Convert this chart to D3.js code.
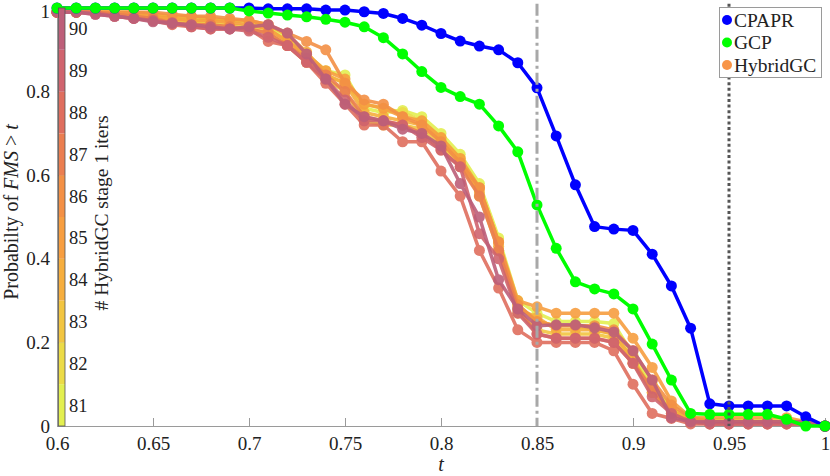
<!DOCTYPE html>
<html>
<head>
<meta charset="utf-8">
<script src="https://cdn.jsdelivr.net/npm/d3@7"></script>
<style>
    body { margin: 0; background: #fff; }
    text { font-family: "Liberation Serif", "Times New Roman", serif; fill: #222; }
</style>
</head>
<body>
<div id="chart"></div>
<script>
/* * * * * * * * * * * * * *
 *        FMS chart        *
 * * * * * * * * * * * * * */

// thresholds t
const tVals = [0.60, 0.61, 0.62, 0.63, 0.64, 0.65, 0.66, 0.67, 0.68, 0.69,
               0.70, 0.71, 0.72, 0.73, 0.74, 0.75, 0.76, 0.77, 0.78, 0.79,
               0.80, 0.81, 0.82, 0.83, 0.84, 0.85, 0.86, 0.87, 0.88, 0.89,
               0.90, 0.91, 0.92, 0.93, 0.94, 0.95, 0.96, 0.97, 0.98, 0.99, 1.00];

const cpapr = [1, 1, 1, 1, 1, 1, 1, 1, 1, 1,
               1, 0.998, 0.998, 0.998, 0.995, 0.995, 0.991, 0.987, 0.975, 0.959,
               0.939, 0.921, 0.909, 0.90, 0.869, 0.809, 0.694, 0.577, 0.477, 0.471,
               0.468, 0.411, 0.335, 0.234, 0.053, 0.048, 0.048, 0.048, 0.048, 0.022, 0];

const gcp = [1, 1, 1, 1, 1, 1, 1, 1, 1, 1,
             0.993, 0.988, 0.983, 0.979, 0.973, 0.966, 0.955, 0.929, 0.89, 0.848,
             0.81, 0.788, 0.77, 0.718, 0.656, 0.529, 0.425, 0.345, 0.328, 0.316,
             0.28, 0.196, 0.11, 0.03, 0.028, 0.028, 0.028, 0.028, 0.016, 0, 0];

// HybridGC, one run per number of stage 1 iterations
const iters = [81, 82, 83, 84, 85, 86, 87, 88, 89, 90];

const h81 = [0.99, 0.99, 0.99, 0.99, 0.99, 0.985, 0.98, 0.975, 0.97, 0.97,
             0.965, 0.955, 0.93, 0.89, 0.85, 0.84, 0.76, 0.75, 0.755, 0.74,
             0.70, 0.65, 0.58, 0.45, 0.30, 0.27, 0.25, 0.25, 0.25, 0.245,
             0.17, 0.10, 0.04, 0.02, 0.015, 0.015, 0.015, 0.015, 0.015, 0.01, 0];
const h82 = [0.99, 0.99, 0.99, 0.99, 0.985, 0.98, 0.975, 0.97, 0.965, 0.96,
             0.955, 0.95, 0.92, 0.88, 0.84, 0.82, 0.77, 0.76, 0.75, 0.73,
             0.69, 0.64, 0.57, 0.44, 0.29, 0.25, 0.24, 0.24, 0.23, 0.22,
             0.16, 0.09, 0.04, 0.02, 0.015, 0.015, 0.01, 0.01, 0.01, 0.01, 0];
const h83 = [0.99, 0.99, 0.99, 0.985, 0.98, 0.975, 0.97, 0.965, 0.96, 0.955,
             0.95, 0.94, 0.91, 0.87, 0.83, 0.80, 0.73, 0.72, 0.72, 0.71,
             0.67, 0.63, 0.55, 0.42, 0.27, 0.23, 0.22, 0.22, 0.22, 0.21,
             0.15, 0.08, 0.03, 0.015, 0.01, 0.01, 0.01, 0.01, 0.01, 0.005, 0];
const h84 = [0.99, 0.99, 0.99, 0.99, 0.99, 0.985, 0.98, 0.98, 0.975, 0.97,
             0.97, 0.96, 0.935, 0.895, 0.84, 0.82, 0.75, 0.74, 0.73, 0.72,
             0.68, 0.63, 0.56, 0.43, 0.28, 0.26, 0.23, 0.23, 0.23, 0.22,
             0.16, 0.08, 0.035, 0.02, 0.01, 0.01, 0.01, 0.01, 0.01, 0.01, 0];
const h85 = [0.99, 0.99, 0.99, 0.99, 0.985, 0.98, 0.975, 0.97, 0.97, 0.965,
             0.96, 0.95, 0.92, 0.89, 0.85, 0.83, 0.77, 0.76, 0.74, 0.73,
             0.69, 0.64, 0.57, 0.44, 0.30, 0.285, 0.27, 0.27, 0.27, 0.27,
             0.21, 0.14, 0.06, 0.02, 0.02, 0.02, 0.02, 0.02, 0.02, 0.01, 0];
const h86 = [0.99, 0.99, 0.99, 0.99, 0.99, 0.99, 0.985, 0.98, 0.98, 0.975,
             0.97, 0.96, 0.94, 0.92, 0.90, 0.82, 0.78, 0.77, 0.74, 0.72,
             0.68, 0.63, 0.57, 0.44, 0.29, 0.25, 0.24, 0.24, 0.24, 0.23,
             0.18, 0.11, 0.05, 0.02, 0.01, 0.01, 0.01, 0.01, 0.01, 0.01, 0];
const h87 = [0.99, 0.99, 0.99, 0.985, 0.98, 0.975, 0.965, 0.96, 0.96, 0.955,
             0.95, 0.94, 0.91, 0.88, 0.84, 0.80, 0.74, 0.73, 0.72, 0.70,
             0.66, 0.62, 0.55, 0.42, 0.28, 0.22, 0.21, 0.21, 0.21, 0.20,
             0.15, 0.09, 0.03, 0.01, 0.005, 0.005, 0.005, 0.005, 0.005, 0.005, 0];
const h88 = [0.99, 0.99, 0.99, 0.98, 0.975, 0.97, 0.96, 0.955, 0.95, 0.95,
             0.95, 0.92, 0.91, 0.87, 0.82, 0.77, 0.72, 0.72, 0.68, 0.68,
             0.61, 0.55, 0.42, 0.33, 0.23, 0.20, 0.20, 0.20, 0.20, 0.18,
             0.10, 0.03, 0.018, 0.005, 0.005, 0.005, 0.005, 0.005, 0.005, 0.005, 0];
const h89 = [0.99, 0.99, 0.985, 0.98, 0.975, 0.97, 0.965, 0.955, 0.95, 0.95,
             0.945, 0.93, 0.91, 0.87, 0.83, 0.78, 0.73, 0.73, 0.72, 0.69,
             0.66, 0.62, 0.46, 0.40, 0.27, 0.22, 0.21, 0.21, 0.21, 0.20,
             0.15, 0.07, 0.03, 0.01, 0.005, 0.005, 0.005, 0.005, 0.005, 0.005, 0];
const h90 = [0.99, 0.99, 0.985, 0.98, 0.975, 0.967, 0.963, 0.96, 0.955, 0.95,
             0.955, 0.96, 0.94, 0.89, 0.83, 0.77, 0.74, 0.73, 0.71, 0.70,
             0.67, 0.58, 0.50, 0.35, 0.28, 0.24, 0.242, 0.242, 0.235, 0.225,
             0.18, 0.11, 0.02, 0.01, 0.01, 0.01, 0.01, 0.01, 0.01, 0.01, 0];

const hybridRuns = [h81, h82, h83, h84, h85, h86, h87, h88, h89, h90];
const iterColors = ['#e3ef50', '#ecdb47', '#f2c541', '#f6ae3e', '#f79e40',
                    '#f39045', '#eb7e50', '#df6e5e', '#d0646e', '#bd5f79'];

const xTicks = [0.6, 0.65, 0.7, 0.75, 0.8, 0.85, 0.9, 0.95, 1];
const yTicks = [0, 0.2, 0.4, 0.6, 0.8, 1];
const markLines = [0.85, 0.95];


class FmsVis {
    constructor(parentElement) {
        this.parentElement = parentElement;
        this.initVis();
    }

    initVis() {
        let vis = this;

        vis.width = 830;
        vis.height = 476;

        vis.svg = d3.select('#' + vis.parentElement)
            .append('svg')
            .attr('width', vis.width)
            .attr('height', vis.height);

        // scales
        vis.x = d3.scaleLinear().domain([0.6, 1]).range([57, 825]);
        vis.y = d3.scaleLinear().domain([0, 1]).range([426, 8]);
        vis.cb = d3.scaleLinear().domain([80.5, 90.5]).range([426, 8]);
        vis.color = d3.scaleOrdinal(iters, iterColors);

        vis.line = d3.line()
            .x((d, i) => vis.x(tVals[i]))
            .y(d => vis.y(d));

        // axes
        vis.svg.append('g')
            .attr('class', 'x-axis')
            .attr('transform', `translate(0, ${vis.y(0)})`)
            .call(d3.axisBottom(vis.x).tickValues(xTicks).tickSize(-8).tickSizeOuter(0)
                .tickPadding(11).tickFormat(d3.format('~g')));

        vis.svg.append('g')
            .attr('class', 'y-axis')
            .attr('transform', `translate(${vis.x(0.6)}, 0)`)
            .call(d3.axisLeft(vis.y).tickValues(yTicks).tickSize(-8).tickSizeOuter(0)
                .tickPadding(7).tickFormat(d3.format('~g')));

        vis.svg.selectAll('.x-axis, .y-axis')
            .attr('font-family', null).attr('font-size', 19);
        vis.svg.selectAll('.x-axis path, .y-axis path, .x-axis line, .y-axis line')
            .attr('stroke', '#9a9a9a');
        // keep the top label inside the page
        vis.svg.selectAll('.y-axis .tick text').filter(d => d === 1).attr('dy', '0.5em');

        // axis titles
        vis.svg.append('text')
            .attr('x', vis.x(0.8))
            .attr('y', 471)
            .attr('text-anchor', 'middle')
            .attr('font-size', 20)
            .attr('font-style', 'italic')
            .text('t');

        let yTitle = vis.svg.append('text')
            .attr('transform', `translate(18, 212) rotate(-90)`)
            .attr('text-anchor', 'middle')
            .attr('font-size', 20);
        yTitle.append('tspan').text('Probabilty of ');
        yTitle.append('tspan').attr('font-style', 'italic').text('FMS');
        yTitle.append('tspan').text(' > ');
        yTitle.append('tspan').attr('font-style', 'italic').text('t');

        vis.seriesG = vis.svg.append('g');
        vis.overlayG = vis.svg.append('g');

        vis.updateVis();
    }

    updateVis() {
        let vis = this;

        let series = hybridRuns.map((vals, i) => ({ name: 'h' + iters[i], vals: vals, color: vis.color(iters[i]), w: 3.5, r: 5.5, op: 0.9 }));
        series.push({ name: 'CPAPR', vals: cpapr, color: '#0000ff', w: 3.5, r: 5.5, op: 1 });
        series.push({ name: 'GCP', vals: gcp, color: '#00ff00', w: 3.5, r: 5.5, op: 1 });

        let groups = vis.seriesG.selectAll('.series')
            .data(series)
            .enter()
            .append('g')
            .attr('class', 'series')
            .attr('opacity', d => d.op);

        groups.append('path')
            .attr('d', d => vis.line(d.vals))
            .attr('fill', 'none')
            .attr('stroke', d => d.color)
            .attr('stroke-width', d => d.w)
            .attr('stroke-linejoin', 'round');

        groups.each(function (d) {
            d3.select(this).selectAll('circle')
                .data(d.vals)
                .enter()
                .append('circle')
                .attr('cx', (v, i) => vis.x(tVals[i]))
                .attr('cy', v => vis.y(v))
                .attr('r', d.r)
                .attr('fill', d.color);
        });

        // reference thresholds
        vis.overlayG.selectAll('.mark-line')
            .data(markLines)
            .enter()
            .append('line')
            .attr('class', 'mark-line')
            .attr('x1', d => vis.x(d))
            .attr('x2', d => vis.x(d))
            .attr('y1', vis.y(1.01))
            .attr('y2', vis.y(0))
            .attr('stroke', (d, i) => i === 0 ? '#a8a8a8' : '#555')
            .attr('stroke-width', 3)
            .attr('stroke-dasharray', (d, i) => i === 0 ? '12,4,3,4' : '3,2.6');

        vis.drawColorbar();
        vis.drawLegend();
    }

    drawColorbar() {
        let vis = this;
        let cbG = vis.overlayG.append('g');

        cbG.selectAll('rect')
            .data(iters)
            .enter()
            .append('rect')
            .attr('x', 58.5)
            .attr('y', d => vis.cb(d + 0.5))
            .attr('width', 6.5)
            .attr('height', d => vis.cb(d - 0.5) - vis.cb(d + 0.5))
            .attr('fill', d => vis.color(d));

        cbG.append('rect')
            .attr('x', 58.5).attr('y', vis.cb(90.5))
            .attr('width', 6.5).attr('height', vis.cb(80.5) - vis.cb(90.5))
            .attr('fill', 'none')
            .attr('stroke', '#555')
            .attr('stroke-width', 0.8);

        let cbAxis = cbG.append('g')
            .attr('transform', 'translate(65, 0)')
            .call(d3.axisRight(vis.cb).tickValues(iters).tickSize(0).tickPadding(4));
        cbAxis.attr('font-family', null).attr('font-size', 18.5);
        cbAxis.select('.domain').remove();

        cbG.append('text')
            .attr('transform', `translate(108, 213) rotate(-90)`)
            .attr('text-anchor', 'middle')
            .attr('font-size', 19.5)
            .text('# HybridGC stage 1 iters');
    }

    drawLegend() {
        let vis = this;
        let legend = vis.overlayG.append('g').attr('transform', 'translate(719.5, 7.5)');

        legend.append('rect')
            .attr('width', 102)
            .attr('height', 70)
            .attr('fill', '#fff')
            .attr('stroke', '#9a9a9a');

        let items = [['CPAPR', '#0000ff'], ['GCP', '#00ff00'], ['HybridGC', '#f89548']];

        let rows = legend.selectAll('.row')
            .data(items)
            .enter()
            .append('g')
            .attr('transform', (d, i) => `translate(0, ${12.5 + i * 22.5})`);

        rows.append('circle')
            .attr('cx', 7.5)
            .attr('r', 5)
            .attr('fill', d => d[1]);

        rows.append('text')
            .attr('x', 14.5)
            .attr('y', 6.5)
            .attr('font-size', 19.5)
            .text(d => d[0]);
    }
}

new FmsVis('chart');
</script>
</body>
</html>
